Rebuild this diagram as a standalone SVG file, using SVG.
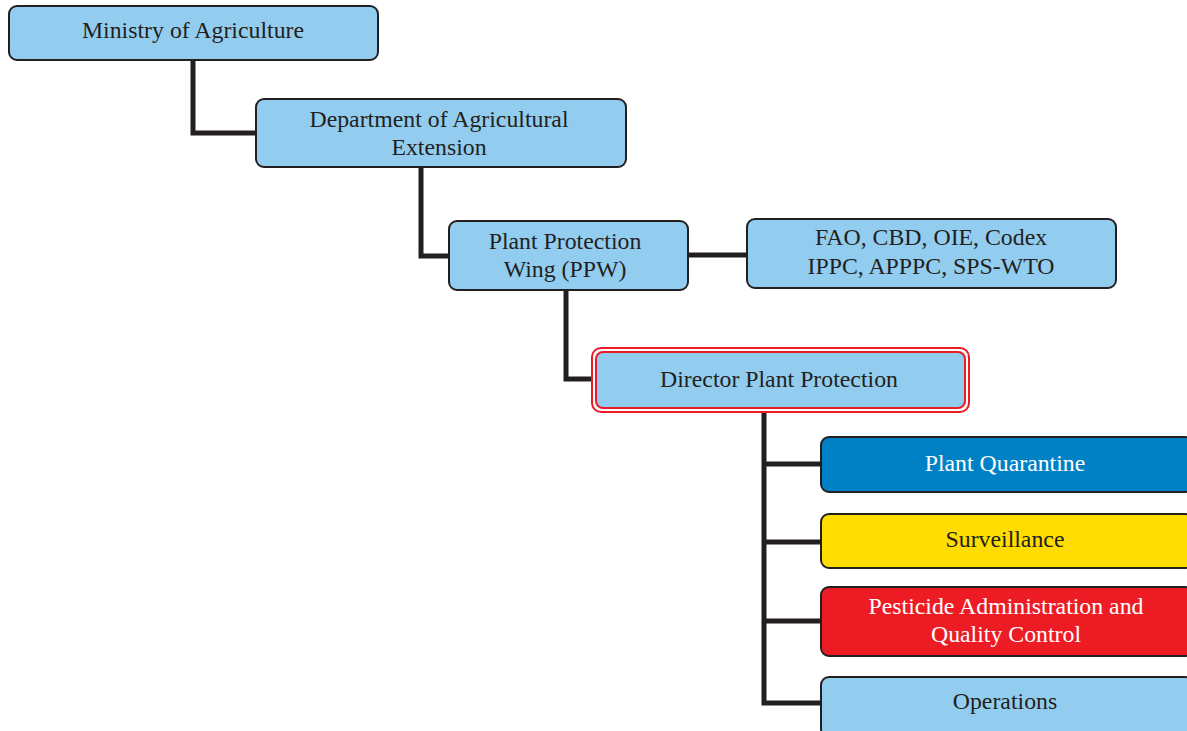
<svg xmlns="http://www.w3.org/2000/svg" width="1187" height="731" viewBox="0 0 1187 731">
  <style>
    .box { stroke: #231f20; stroke-width: 2; }
    .sky { fill: #92cdf0; }
    .lbl { font-family: "Liberation Serif", "Times New Roman", serif; font-size: 23.8px; fill: #231f20; text-anchor: middle; dominant-baseline: central; }
    .wht { fill: #ffffff; }
    .link { fill: none; stroke: #231f20; stroke-width: 5; stroke-linejoin: miter; }
  </style>
  <rect width="1187" height="731" fill="#ffffff"/>

  <!-- connectors -->
  <g id="connectors">
    <polyline class="link" points="193,60 193,133 257,133"/>
    <polyline class="link" points="421,167 421,256 450,256"/>
    <line class="link" x1="688" y1="255" x2="748" y2="255"/>
    <polyline class="link" points="566,290 566,379 594,379"/>
    <polyline class="link" points="764,412 764,703 822,703"/>
    <line class="link" x1="764" y1="464" x2="822" y2="464"/>
    <line class="link" x1="764" y1="542" x2="822" y2="542"/>
    <line class="link" x1="764" y1="621" x2="822" y2="621"/>
  </g>

  <g id="ministry">
    <rect class="box sky" x="9" y="6" width="369" height="54" rx="8"/>
    <text class="lbl" x="193" y="30">Ministry of Agriculture</text>
  </g>

  <g id="department">
    <rect class="box sky" x="256" y="99" width="370" height="68" rx="8"/>
    <text class="lbl" x="439" y="119">Department of Agricultural</text>
    <text class="lbl" x="439" y="147">Extension</text>
  </g>

  <g id="ppw">
    <rect class="box sky" x="449" y="221" width="239" height="69" rx="8"/>
    <text class="lbl" x="565" y="241">Plant Protection</text>
    <text class="lbl" x="565" y="269">Wing (PPW)</text>
  </g>

  <g id="partners">
    <rect class="box sky" x="747" y="219" width="369" height="69" rx="8"/>
    <text class="lbl" x="931" y="237">FAO, CBD, OIE, Codex</text>
    <text class="lbl" x="931" y="266">IPPC, APPPC, SPS-WTO</text>
  </g>

  <g id="director">
    <rect x="592" y="348" width="377" height="64" rx="9" fill="#ffffff" stroke="#ed1c24" stroke-width="2"/>
    <rect x="596" y="352" width="369" height="56" rx="7" class="sky" stroke="#ed1c24" stroke-width="2"/>
    <text class="lbl" x="779" y="379">Director Plant Protection</text>
  </g>

  <g id="quarantine">
    <rect class="box" x="821" y="437" width="372" height="55" rx="8" fill="#0081c6"/>
    <text class="lbl wht" x="1005" y="463">Plant Quarantine</text>
  </g>

  <g id="surveillance">
    <rect class="box" x="821" y="514" width="372" height="54" rx="8" fill="#ffdd00"/>
    <text class="lbl" x="1005" y="539">Surveillance</text>
  </g>

  <g id="pesticide">
    <rect class="box" x="821" y="587" width="372" height="69" rx="8" fill="#ed1c24"/>
    <text class="lbl wht" x="1006" y="606">Pesticide Administration and</text>
    <text class="lbl wht" x="1006" y="634">Quality Control</text>
  </g>

  <g id="operations">
    <rect class="box sky" x="821" y="677" width="372" height="60" rx="8"/>
    <text class="lbl" x="1005" y="701">Operations</text>
  </g>
</svg>
